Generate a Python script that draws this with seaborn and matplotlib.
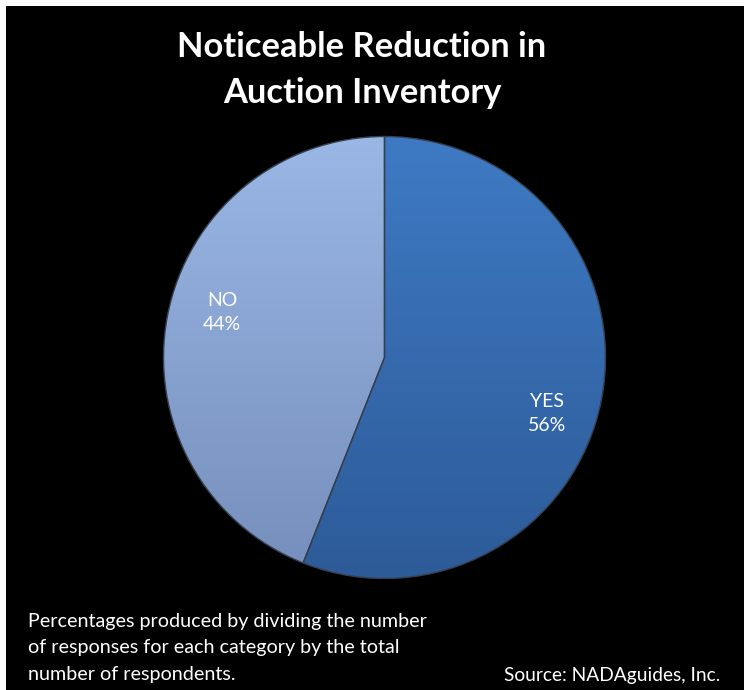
import numpy as np
import matplotlib
matplotlib.use("Agg")
import matplotlib.pyplot as plt
from matplotlib.colors import LinearSegmentedColormap
from matplotlib.patches import Rectangle
import seaborn as sns

# ---- data ----
categories = ["YES", "NO"]
values = [56, 44]
title_text = "Noticeable Reduction in\nAuction Inventory"
note_text = ("Percentages produced by dividing the number\n"
             "of responses for each category by the total\n"
             "number of respondents.")
source_text = "Source: NADAguides, Inc."

# ---- style ----
sns.set_theme(style="dark", rc={"figure.facecolor": "black",
                                "axes.facecolor": "black",
                                "savefig.facecolor": "black"})
plt.rcParams["font.family"] = ["Lato", "DejaVu Sans"]

top_colors = ["#3e7ac4", "#9ab7e5"]
bottom_colors = ["#2d5b98", "#768ebb"]

W, H = 744, 690
fig = plt.figure(figsize=(W / 100, H / 100), dpi=100)

# white frame strips (top / left) like the reference capture
fig.patches.append(Rectangle((0, 1 - 6 / H), 1, 6 / H, transform=fig.transFigure,
                             facecolor="white", edgecolor="none", zorder=10))
fig.patches.append(Rectangle((0, 0), 6 / W, 1, transform=fig.transFigure,
                             facecolor="white", edgecolor="none", zorder=10))

cx, cy, r = 384.5, 357.5, 221.0
ax = fig.add_axes([(cx - r) / W, (H - cy - r) / H, 2 * r / W, 2 * r / H])
ax.set_facecolor("black")

wedges, texts = ax.pie(values, labels=categories, colors=top_colors,
                       startangle=90, counterclock=False, radius=1.0,
                       labeldistance=0.77,
                       wedgeprops=dict(linewidth=0))

# vertical gradient fill per wedge
grad = np.linspace(0, 1, 256).reshape(-1, 1)
for w, c_top, c_bot in zip(wedges, top_colors, bottom_colors):
    cmap = LinearSegmentedColormap.from_list("g", [c_top, c_bot])
    im = ax.imshow(grad, extent=[-1, 1, -1, 1], origin="upper", cmap=cmap,
                   aspect="auto", zorder=2, interpolation="bilinear")
    im.set_clip_path(w)

# edges on top
edge_w, _ = ax.pie(values, startangle=90, counterclock=False, radius=1.0,
                   wedgeprops=dict(facecolor="none", edgecolor="#34404f",
                                   linewidth=1.0))
for e in edge_w:
    e.set_zorder(3)

# labels: name + percent, placed from wedge angles
for w, t, cat, v in zip(wedges, texts, categories, values):
    ang = np.deg2rad((w.theta1 + w.theta2) / 2 - 6.5)
    t.set_position((0.77 * np.cos(ang), 0.77 * np.sin(ang) - 0.025))
    t.set_text(f"{cat}\n{v}%")
    t.set_ha("center")
    t.set_va("center")
    t.set_color("white")
    t.set_fontsize(14)
    t.set_linespacing(1.55)
    t.set_zorder(5)

ax.set_xlim(-1, 1)
ax.set_ylim(-1, 1)
ax.set_aspect("equal")
ax.axis("off")

fig.text(362 / W, 1 - 70 / H, title_text, ha="center", va="center",
         color="white", fontsize=24.8, fontweight="bold", linespacing=1.55)
fig.text(28 / W, 1 - 648 / H, note_text, ha="left", va="center",
         color="white", fontsize=14.2, linespacing=1.65)
fig.text(720 / W, 1 - 676 / H, source_text, ha="right", va="center",
         color="white", fontsize=13.8)

fig.savefig("out.png", dpi=100, facecolor="black")
